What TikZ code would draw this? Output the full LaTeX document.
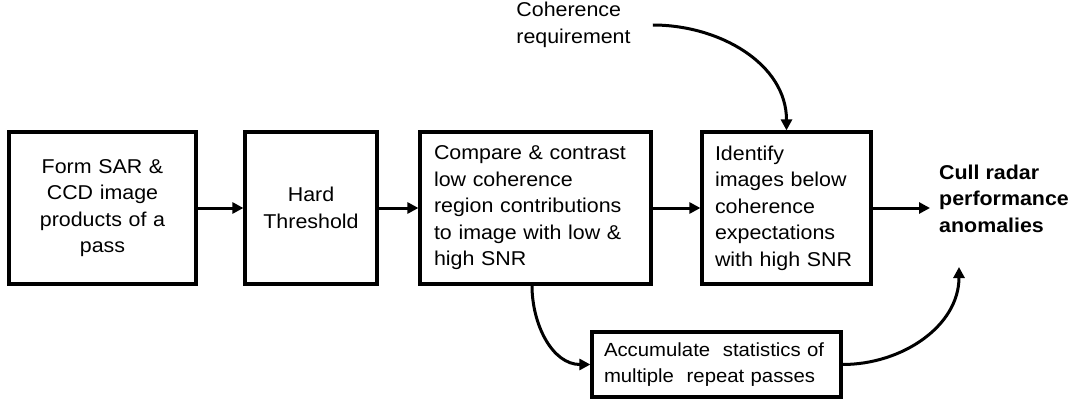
\documentclass[tikz,border=0pt]{standalone}
\usepackage{fontspec}
\setmainfont{Liberation Sans}[FakeStretch=1.07]
\usetikzlibrary{arrows.meta}
\begin{document}
\begin{tikzpicture}[x=1pt,y=-1pt,
  txt/.style={font=\fontsize{20}{26.5}\selectfont},
  box/.style={draw, line width=3.2pt, minimum height=152pt, inner sep=0pt, txt},
  conn/.style={line width=3pt, -{Triangle[length=11pt,width=11pt]}},
  lbl/.style={txt, align=left, inner sep=0pt}]
\useasboundingbox (0,0) rectangle (1076,404);
\node[box, minimum width=187pt, text width=170pt, align=center] (form) at (102.5,208) {Form SAR \&\\CCD image\\products of a\\pass};
\node[box, minimum width=132pt, text width=120pt, align=center] (hard) at (311,208) {Hard\\Threshold};
\node[box, minimum width=231pt, text width=203pt, align=left] (compare) at (535.5,208) {Compare \& contrast\\low coherence\\region contributions\\to image with low \&\\high SNR};
\node[box, minimum width=169pt, text width=143pt, align=left] (check) at (786.5,208) {Identify\\images below\\coherence\\expectations\\with high SNR};
\node[draw, line width=3.2pt, minimum width=249pt, minimum height=65pt, inner sep=0pt, text width=225pt, align=left, font=\fontsize{19}{26}\selectfont] (acc) at (716.5,364.5) {Accumulate \ statistics of\\multiple \ repeat passes};
\node[lbl, inner xsep=22pt] (coh) at (573.5,25) {Coherence\\requirement};
\node[lbl, font=\bfseries\fontsize{20}{26.5}\selectfont, anchor=west, inner xsep=9pt] (cull) at (930,198.5) {Cull radar\\performance\\anomalies};
\coordinate (cullin) at (959,267);
\draw[conn] (form) -- (hard);
\draw[conn] (hard) -- (compare);
\draw[conn] (compare) -- (check);
\draw[conn] (check.east) -- (check.east -| cull.west);
\draw[conn] (coh.east) to[out=0,in=90] (check.north);
\draw[conn] ([xshift=-3.5pt]compare.south) to[out=-90,in=180] (acc.west);
\draw[conn] (acc.east) to[out=0,in=-90] (cullin);
\end{tikzpicture}
\end{document}
